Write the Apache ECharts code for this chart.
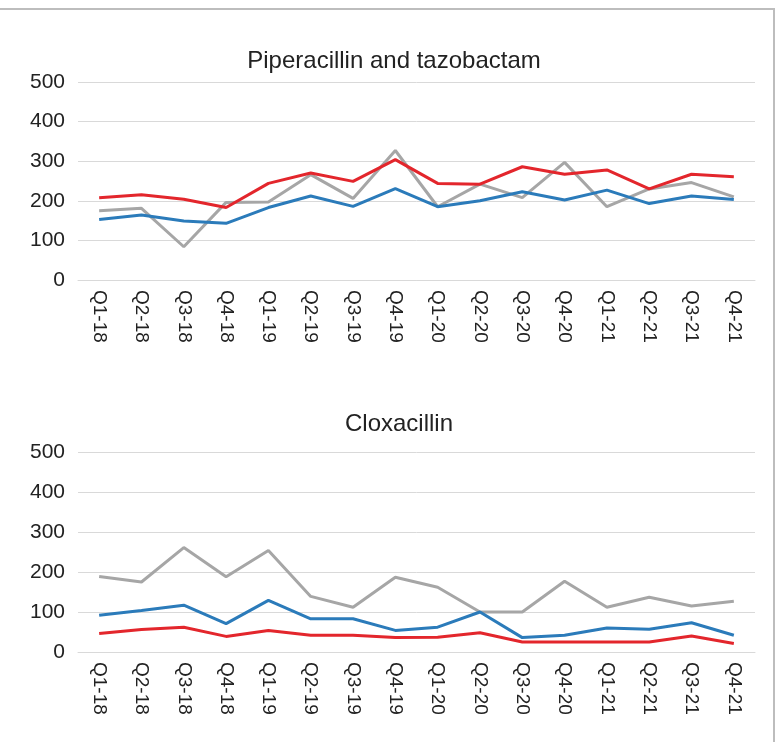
<!DOCTYPE html>
<html>
<head>
<meta charset="utf-8">
<script src="https://cdn.jsdelivr.net/npm/echarts@6/dist/echarts.min.js"></script>
<style>html,body{margin:0;padding:0;background:#fff;}#c{width:782px;height:742px;}</style>
</head>
<body>
<div id="c"></div>
<script>
const categories = ['Q1-18','Q2-18','Q3-18','Q4-18','Q1-19','Q2-19','Q3-19','Q4-19','Q1-20','Q2-20','Q3-20','Q4-20','Q1-21','Q2-21','Q3-21','Q4-21'];
const yTicks = [0, 100, 200, 300, 400, 500];

const pipRed  = [208, 215, 204, 183, 244, 270, 249, 304, 244, 242, 286, 267, 278, 230, 267, 261];
const pipBlue = [153, 164, 149, 143, 183, 212, 186, 231, 185, 200, 223, 202, 227, 193, 212, 203];
const pipGray = [175, 181, 84, 196, 197, 266, 206, 327, 185, 242, 208, 297, 185, 230, 246, 210];

const cloRed  = [46, 56, 62, 39, 54, 42, 42, 36, 37, 48, 25, 25, 25, 25, 40, 21];
const cloBlue = [92, 104, 117, 71, 129, 83, 83, 54, 62, 100, 36, 42, 60, 57, 73, 42];
const cloGray = [189, 175, 261, 188, 254, 139, 112, 187, 162, 100, 100, 177, 112, 137, 115, 127];

const RED = '#e3262c', BLUE = '#2b7bba', GRAY = '#a6a6a6';
const font = 'Liberation Sans, Arial, sans-serif';

const chart = echarts.init(document.getElementById('c'));

function xAxis(gi){
  return {
    type: 'category', gridIndex: gi, data: categories, boundaryGap: true,
    axisLine: {show: true, lineStyle: {color: '#d9d9d9', width: 1}},
    axisTick: {show: false},
    axisLabel: {rotate: -90, color: '#222', fontSize: 19, fontFamily: font, margin: 10, interval: 0}
  };
}
function yAxis(gi){
  return {
    type: 'value', gridIndex: gi, min: yTicks[0], max: yTicks[yTicks.length-1], interval: 100,
    axisLine: {show: false}, axisTick: {show: false},
    axisLabel: {color: '#222', fontSize: 21, fontFamily: font, margin: 13},
    splitLine: {lineStyle: {color: '#d9d9d9', width: 1}}
  };
}
function line(gi, data, color, z){
  return {type: 'line', xAxisIndex: gi, yAxisIndex: gi, data: data, symbol: 'none',
    lineStyle: {color: color, width: 3}, itemStyle: {color: color}, z: z, animation: false};
}

chart.setOption({
  animation: false,
  backgroundColor: '#fff',
  title: [
    {text: 'Piperacillin and tazobactam', left: 389, top: 44, textAlign: 'center',
     textStyle: {fontSize: 24, fontWeight: 'normal', color: '#222', fontFamily: font}},
    {text: 'Cloxacillin', left: 394, top: 407, textAlign: 'center',
     textStyle: {fontSize: 24, fontWeight: 'normal', color: '#222', fontFamily: font}}
  ],
  graphic: [
    {type: 'polyline', shape: {points: [[-5, 9], [774, 9], [774, 750]]},
     style: {stroke: '#bdbdbd', lineWidth: 2, fill: null}, silent: true}
  ],
  grid: [
    {left: 78, right: 27, top: 82, height: 198},
    {left: 78, right: 27, top: 452, height: 200}
  ],
  xAxis: [xAxis(0), xAxis(1)],
  yAxis: [yAxis(0), yAxis(1)],
  series: [
    line(0, pipGray, GRAY, 2), line(0, pipBlue, BLUE, 3), line(0, pipRed, RED, 4),
    line(1, cloGray, GRAY, 2), line(1, cloBlue, BLUE, 3), line(1, cloRed, RED, 4)
  ]
});
</script>
</body>
</html>
